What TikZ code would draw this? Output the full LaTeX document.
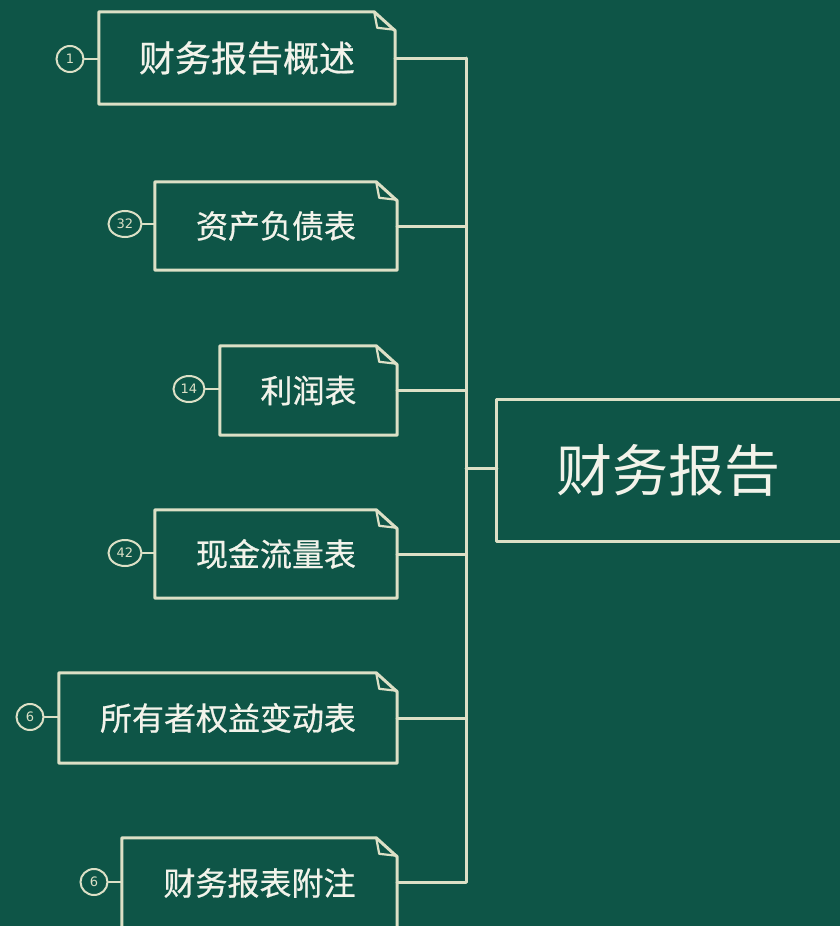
\documentclass[tikz,border=0pt]{standalone}
\usepackage{fontspec}
\usetikzlibrary{shapes.geometric}
\newfontfamily\cjk{Noto Sans CJK SC}
\newfontfamily\cjkb[FakeBold=0.6]{Noto Sans CJK SC}
\newfontfamily\numfont{DejaVu Sans}
\definecolor{board}{HTML}{0E5547}
\definecolor{chalk}{HTML}{DCE0C6}
\definecolor{chalktext}{HTML}{F2F3EA}
\tikzset{
  x=1pt, y=-1pt,
  line/.style={draw=chalk, line width=3pt, line join=round, line cap=round},
  box/.style={inner sep=0pt, text=chalktext, font=\cjkb\fontsize{32}{32}\selectfont},
  numc/.style={ellipse, draw=chalk, line width=2pt, minimum width=27pt, minimum height=26pt, inner sep=0pt, text=chalk, font=\numfont\fontsize{13}{13}\selectfont},
}
\newcommand\notebox[1]{%
  \draw[line] (#1.north west) -- ([xshift=-21pt]#1.north east) -- ([yshift=-19pt]#1.north east) -- (#1.south east) -- (#1.south west) -- cycle;
  \draw[line, line width=2.2pt] ([xshift=-21pt]#1.north east) -- ([xshift=-18pt,yshift=-16pt]#1.north east) -- ([yshift=-18pt]#1.north east);}
\begin{document}
\begin{tikzpicture}
\fill[board] (0,0) rectangle (840,926);
\clip (0,0) rectangle (840,926);
\useasboundingbox (0,0) rectangle (840,926);
% boxes
\node[box, font=\cjkb\fontsize{36}{36}\selectfont, minimum width=296pt, minimum height=92pt] (b1) at (247,58) {财务报告概述};
\node[box, minimum width=242pt, minimum height=88pt] (b2) at (276,226) {资产负债表};
\node[box, minimum width=177pt, minimum height=89pt] (b3) at (308.5,390.5) {利润表};
\node[box, minimum width=242pt, minimum height=88pt] (b4) at (276,554) {现金流量表};
\node[box, minimum width=338pt, minimum height=90pt] (b5) at (228,718) {所有者权益变动表};
\node[box, minimum width=275pt, minimum height=90pt] (b6) at (259.5,883) {财务报表附注};
\foreach \b in {b1,b2,b3,b4,b5,b6} {\notebox{\b}}
% centre box
\node[inner sep=0pt, minimum width=353pt, minimum height=141pt] (c) at (673.5,470.5) {};
\draw[line] (c.north east) -- (c.north west) -- (c.south west) -- (c.south east);
\node[text=chalktext, font=\cjk\fontsize{56}{56}\selectfont, inner sep=0pt] (ct) at (668,470) {财务报告};
% number circles
\node[numc] (n1) at (70,59) {1};
\node[numc, minimum width=33pt] (n2) at (125,224) {32};
\node[numc, minimum width=31pt] (n3) at (189,389) {14};
\node[numc, minimum width=33pt] (n4) at (125,553) {42};
\node[numc] (n5) at (30,717) {6};
\node[numc] (n6) at (94,882) {6};
\foreach \i in {1,...,6} {\draw[line, line width=2pt] (n\i.east) -- (b\i.west |- n\i.east);}
% trunk
\coordinate (j1) at (466,58);
\coordinate (j2) at (466,226);
\coordinate (j3) at (466,390);
\coordinate (j4) at (466,554);
\coordinate (j5) at (466,718);
\coordinate (j6) at (466,882);
\coordinate (jc) at (466,468);
\draw[line] (j1) -- (j6);
\foreach \i in {1,...,6} {\draw[line] (b\i.east |- j\i) -- (j\i);}
\draw[line] (jc) -- (c.west |- jc);
\end{tikzpicture}
\end{document}
